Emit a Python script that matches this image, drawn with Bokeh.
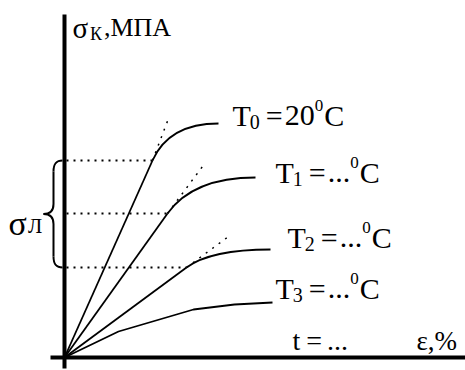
from bokeh.plotting import figure
from bokeh.models import Range1d
from bokeh.core.properties import value
from bokeh.embed import file_html
from bokeh.resources import INLINE

# ---- data (schematic units: strain eps, stress sigma) ----
knee_eps = [88, 103, 122]          # end of linear part T0, T1, T2
knee_sig = [197, 144, 90]          # proportional limits sigma_L
end_eps = [154, 191, 206]          # end of curves T0, T1, T2
end_sig = [234, 180, 108]
ext_eps = [104, 138, 164]          # dotted continuation of linear part
ext_sig = [239, 191, 121]
t3_eps = [0, 54, 129, 170, 208]    # curve T3
t3_sig = [0, 26, 48, 53, 55]

label_subs = ["0", "1", "2", "3"]
label_vals = ["20", "...", "...", "..."]
label_x = [168, 211, 223, 211]
label_y = [232, 175, 110, 59]

FONT = "Liberation Serif"
W, H = 465, 370
X0, Y0 = 64, 357   # origin in picture
TSHIFT = 10        # baseline correction for text glyphs

p = figure(width=W, height=H, output_backend="svg", toolbar_location=None,
           x_range=Range1d(-X0, W - X0), y_range=Range1d(Y0 - H, Y0),
           min_border=0, outline_line_color=None)
p.axis.visible = False
p.grid.visible = False
p.min_border_left = p.min_border_right = p.min_border_top = p.min_border_bottom = 0
p.background_fill_color = "white"
p.border_fill_color = "white"

# axes
p.segment(x0=[0, -14], y0=[-11, 0], x1=[0, 401], y1=[343, 0], line_color="black", line_width=4)

# dotted horizontals at proportional limits
p.segment(x0=[2] * 3, y0=knee_sig, x1=knee_eps, y1=knee_sig,
          line_color="black", line_width=2, line_dash="2 5")

# linear parts
p.segment(x0=[0] * 3, y0=[0] * 3, x1=knee_eps, y1=knee_sig, line_color="black", line_width=1.8)
# curved parts
cx = [k * e / s for k, s, e in zip(knee_eps, knee_sig, end_sig)]
p.quadratic(x0=knee_eps, y0=knee_sig, x1=end_eps, y1=end_sig, cx=cx, cy=end_sig,
            line_color="black", line_width=1.8)
# dotted continuation
p.segment(x0=knee_eps, y0=knee_sig, x1=ext_eps, y1=ext_sig,
          line_color="black", line_width=1.5, line_dash="2 6")
# T3
p.line(t3_eps, t3_sig, line_color="black", line_width=1.8)

# brace for sigma_L
top, bot = knee_sig[0], knee_sig[2]
mid = (top + bot) / 2
xe, xb, xt = -2, -11, -21
bx0 = [xe, xb, xb, xt, xb, xb]
by0 = [top, top - 11, mid + 10, mid, mid - 10, bot + 11]
bx1 = [xb, xb, xt, xb, xb, xe]
by1 = [top - 11, mid + 10, mid, mid - 10, bot + 11, bot]
bcx0 = [xb + 2, xb, xb, xt + 6, xb, xb]
bcy0 = [top, top - 11, mid + 3, mid, mid - 10, bot + 4]
bcx1 = [xb, xb, xt + 6, xb, xb, xb + 2]
bcy1 = [top - 4, mid + 10, mid, mid - 3, bot + 11, bot]
p.bezier(x0=bx0, y0=by0, x1=bx1, y1=by1, cx0=bcx0, cy0=bcy0, cx1=bcx1, cy1=bcy1,
         line_color="black", line_width=2)

ADV = {"T": .611, "=": .564, ".": .25, "C": .667, "0": .5, "1": .5, "2": .5, "3": .5,
       "t": .278, "σ": .6, "К": .722, ",": .25, "М": .889, "П": .722, "А": .722,
       "Л": .667, " ": .25, "ε": .45, "%": .833}


def width(s, size):
    return sum(ADV.get(c, .5) for c in s) * size


def runs(x, y, items):
    for s, size, dy, gap in items:
        x += gap
        p.text(x=[x], y=[y + dy + TSHIFT], text=[s], text_font=value(FONT),
               text_font_size=f"{size}px", text_baseline="alphabetic",
               text_align="left", text_color="black")
        x += width(s, size)


for sub, val, lx, ly in zip(label_subs, label_vals, label_x, label_y):
    runs(lx, ly, [("T", 30, 0, 0), (sub, 20, -6, -1), ("=", 30, 0, 6),
                  (val, 30, 0, 2), ("0", 17, 10, 0), ("C", 30, 0, 1)])

runs(228, 7, [("t", 28, 0, 0), ("=", 28, 0, 6), ("...", 28, 0, 5)])
runs(352, 7, [("ε,%", 27, 0, 0)])
runs(8, 320, [("σ", 29, 0, 0), ("К", 18, -6, 0), (",МПА", 26, 0, 1)])
runs(-56, 124, [("σ", 34, 0, 0), ("Л", 21, -2, -1)])

open("out.html", "w").write(file_html(p, INLINE))
